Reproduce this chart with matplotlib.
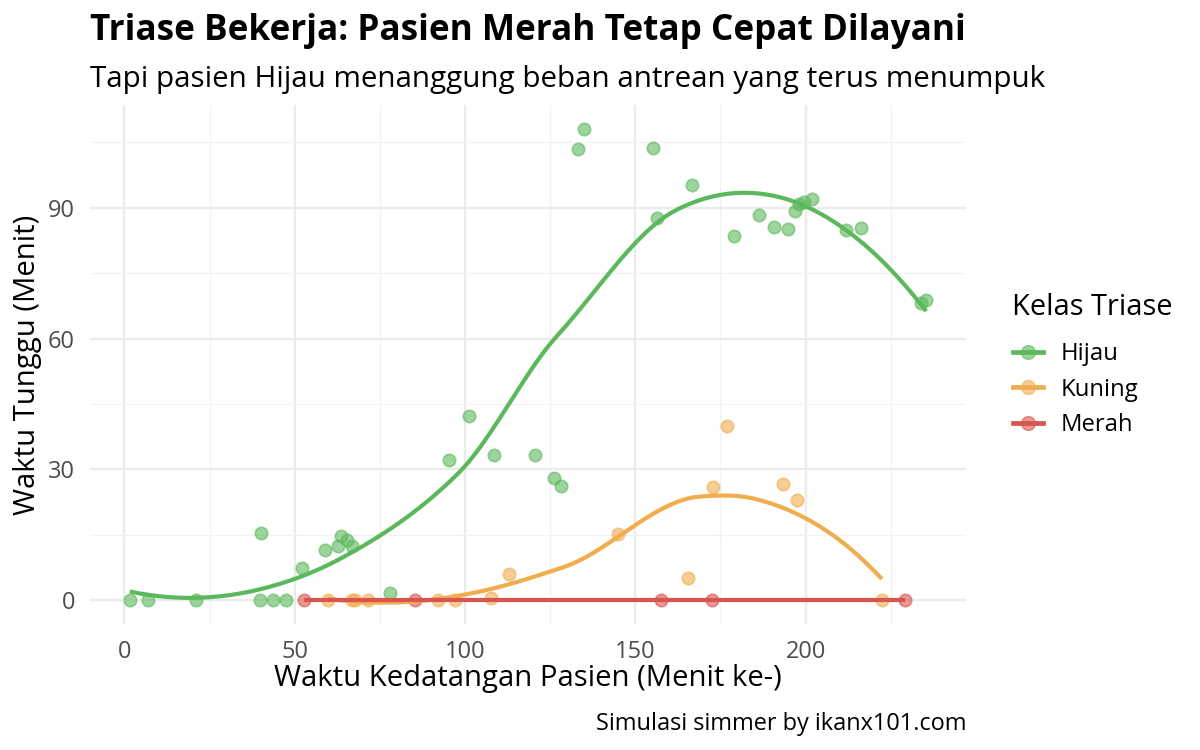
import matplotlib.pyplot as plt
import numpy as np
from matplotlib.lines import Line2D

plt.rcParams['font.family'] = ['Open Sans', 'Noto Sans', 'DejaVu Sans']

# --- data ---
hijau_x = [1.6, 6.8, 21.1, 39.9, 40.2, 43.6, 47.4, 52.0, 59.0, 62.8, 63.7, 65.3,
           66.9, 78.1, 95.2, 101.3, 108.4, 120.7, 126.0, 128.2, 133.2, 135.0,
           155.1, 156.4, 166.6, 179.0, 186.4, 190.7, 194.9, 196.9, 198.2, 199.5,
           202.0, 211.8, 216.3, 233.9, 235.4]
hijau_y = [0, 0, 0, 0, 15.5, 0, 0, 7.4, 11.6, 12.5, 14.8, 13.8,
           12.5, 1.8, 32.1, 42.2, 33.4, 33.4, 28.1, 26.2, 103.4, 108.1,
           103.6, 87.7, 95.1, 83.6, 88.2, 85.5, 85.2, 89.3, 90.8, 91.2,
           92.0, 84.9, 85.4, 68.1, 68.8]

kuning_x = [59.7, 66.8, 67.8, 71.5, 92.2, 97.1, 107.5, 113.0, 144.9, 165.4,
            172.7, 176.8, 193.3, 197.4, 222.4]
kuning_y = [0, 0, 0, 0, 0, 0, 0.5, 6.1, 15.3, 5.2,
            25.9, 39.9, 26.6, 23.1, 0]

merah_x = [52.7, 85.2, 157.5, 172.6, 229.1]
merah_y = [0, 0, 0, 0, 0]

kelas = ['Hijau', 'Kuning', 'Merah']
warna = {'Hijau': '#5CB85C', 'Kuning': '#F0AD4E', 'Merah': '#D9534F'}
series = {'Hijau': (hijau_x, hijau_y), 'Kuning': (kuning_x, kuning_y),
          'Merah': (merah_x, merah_y)}


def local_fit(x, y, x0, q):
    # regresi kuadratik lokal dengan bobot tricube -> (nilai, turunan)
    n = len(x)
    d = np.abs(x - x0)
    ds = np.sort(d)
    h = ds[q - 1] if q >= n else 0.5 * (ds[q - 1] + ds[q])
    h = max(h, 1e-9)
    w = np.clip(1 - (d / h) ** 3, 0, None) ** 3
    A = np.vstack([np.ones(n), x - x0, (x - x0) ** 2]).T
    W = np.sqrt(w)
    coef, *_ = np.linalg.lstsq(A * W[:, None], y * W, rcond=None)
    return coef[0], coef[1]


def loess(x, y, xs, span=0.75):
    # kurang lebih meniru loess() R: kd-tree + interpolasi Hermite kubik
    order = np.argsort(x)
    x = np.asarray(x, float)[order]
    y = np.asarray(y, float)[order]
    n = len(x)
    q = max(int(np.floor(n * span)), 3)
    fc = max(int(np.floor(n * span * 0.2)), 2)
    mu = 0.005 * (x[-1] - x[0])
    verts = {x[0] - mu, x[-1] + mu}

    def build(l, u):
        if u - l + 1 <= fc:
            return
        m = (l + u) // 2
        verts.add(0.5 * (x[m] + x[m + 1]))
        build(l, m)
        build(m + 1, u)

    build(0, n - 1)
    vx = np.array(sorted(verts))
    vals = np.array([local_fit(x, y, v, q) for v in vx])
    out = []
    for t in xs:
        i = min(max(np.searchsorted(vx, t) - 1, 0), len(vx) - 2)
        x0, x1 = vx[i], vx[i + 1]
        hh = x1 - x0
        s = (t - x0) / hh
        f0, d0 = vals[i]
        f1, d1 = vals[i + 1]
        h00 = 2 * s**3 - 3 * s**2 + 1
        h10 = s**3 - 2 * s**2 + s
        h01 = -2 * s**3 + 3 * s**2
        h11 = s**3 - s**2
        out.append(h00 * f0 + h10 * hh * d0 + h01 * f1 + h11 * hh * d1)
    return np.array(out)


fig = plt.figure(figsize=(12, 7.5), dpi=100)
ax = fig.add_axes([0.075, 0.168, 0.730, 0.692])

for k in kelas:
    xv, yv = series[k]
    ax.scatter(xv, yv, s=80, color=warna[k], alpha=0.6, edgecolors=warna[k],
               linewidths=1.2, zorder=3)
for k in kelas:
    xv, yv = series[k]
    xs = np.linspace(min(xv), max(xv), 160)
    ax.plot(xs, loess(xv, yv, xs), color=warna[k], lw=3, zorder=4,
            solid_capstyle='butt')

ax.set_xlim(-10.1, 247.1)
ax.set_ylim(-5.4, 113.5)
ax.set_xticks([0, 50, 100, 150, 200])
ax.set_yticks([0, 30, 60, 90])
ax.set_xticks([25, 75, 125, 175, 225], minor=True)
ax.set_yticks([15, 45, 75, 105], minor=True)
ax.grid(True, which='major', color='#EBEBEB', lw=1.6)
ax.grid(True, which='minor', color='#F2F2F2', lw=0.9)
ax.set_axisbelow(True)
for s in ax.spines.values():
    s.set_visible(False)
ax.tick_params(which='both', length=0, labelsize=17, labelcolor='#4D4D4D')
ax.tick_params(axis='x', pad=11.5)
ax.tick_params(axis='y', pad=10.8)

ax.set_xlabel('Waktu Kedatangan Pasien (Menit ke-)', fontsize=21.1, va='baseline')
ax.xaxis.set_label_coords(0.5, -0.119)
ax.set_ylabel('Waktu Tunggu (Menit)', fontsize=21.1)
ax.yaxis.set_label_coords(-0.055, 0.5)

fig.text(0.075, 1 - 40.4 / 750, 'Triase Bekerja: Pasien Merah Tetap Cepat Dilayani',
         fontsize=25.3, fontweight='bold', va='baseline')
fig.text(0.075, 1 - 86.5 / 750,
         'Tapi pasien Hijau menanggung beban antrean yang terus menumpuk',
         fontsize=21.3, va='baseline')
fig.text(0.805, 1 - 730 / 750, 'Simulasi simmer by ikanx101.com', fontsize=16.9,
         ha='right', va='baseline')

# legenda: judul terpisah, isi di bawahnya
fig.text(1011.5 / 1200, 1 - 315 / 750, 'Kelas Triase', fontsize=20.9,
         va='baseline')
handles = [(Line2D([0], [0], color=warna[k], lw=3.4),
            Line2D([0], [0], ls='none', marker='o', markersize=10,
                   markerfacecolor=warna[k], markeredgecolor=warna[k], alpha=0.6))
           for k in kelas]
leg = fig.legend(handles, kelas, loc='upper left',
                 bbox_to_anchor=(1013 / 1200, 1 - 342 / 750), frameon=False,
                 fontsize=17.2, handlelength=1.26, labelspacing=0.49,
                 handletextpad=0.75, borderpad=0, borderaxespad=0)

fig.savefig('out.png', dpi=100)
